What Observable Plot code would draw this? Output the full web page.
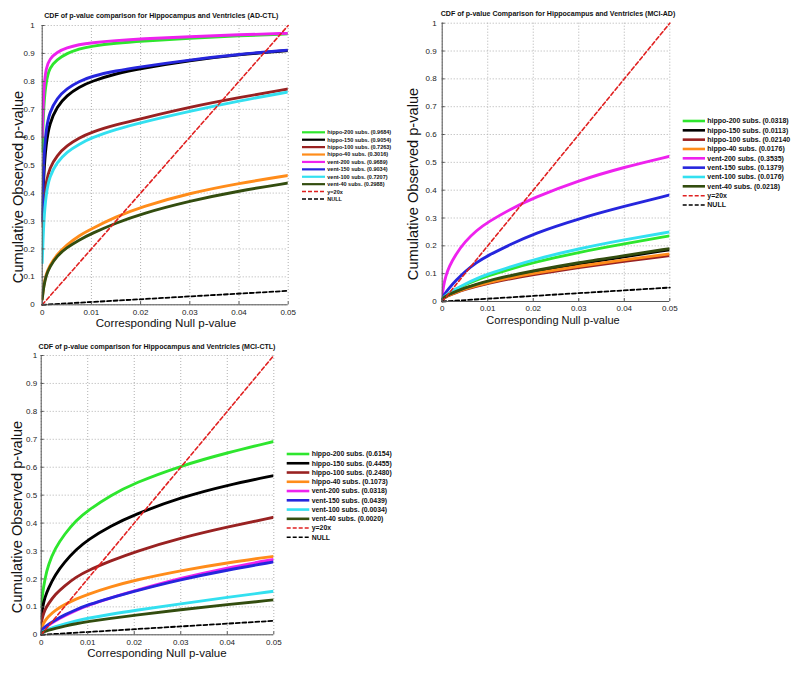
<!DOCTYPE html>
<html><head><meta charset="utf-8">
<script src="https://cdn.jsdelivr.net/npm/d3@7"></script>
<script src="https://cdn.jsdelivr.net/npm/@observablehq/plot@0.6"></script>
<style>
body{margin:0;background:#fff;font-family:"Liberation Sans",Arial,sans-serif;}
#root{position:relative;width:800px;height:674px;overflow:hidden;background:#fff}
#root > div, #root > svg{position:absolute}
</style></head>
<body><div id="root"></div>
<script>
// ---------- shared ----------
const seriesNames = ["hippo-200 subs.","hippo-150 subs.","hippo-100 subs.","hippo-40 subs.","vent-200 subs.","vent-150 subs.","vent-100 subs.","vent-40 subs."];
const seriesColors = ["#2ee62e","#000000","#992222","#ff8c1a","#ee22ee","#2626dd","#33e0f0","#334d0f"];
const refLabel = "y=20x", refColor = "#e02020";
const nullLabel = "NULL", nullColor = "#000000";
const refX = [0, 0.05], refY = [0, 1];
const nullX = [0, 0.05], nullY = [0, 0.05];
const xTicks = [0, 0.01, 0.02, 0.03, 0.04, 0.05];
const yTicks = [0, 0.1, 0.2, 0.3, 0.4, 0.5, 0.6, 0.7, 0.8, 0.9, 1];
// sampled null p-values (x) at which each curve was read
const pX = [0, 0.0003, 0.0008, 0.0015, 0.003, 0.005, 0.0075, 0.01, 0.015, 0.02, 0.03, 0.04, 0.05];

// ---------- AD-CTL ----------
const adCtlTitle = "CDF of p-value comparison for Hippocampus and Ventricles (AD-CTL)";
const adCtlLegendVals = ["(0.9684)","(0.9054)","(0.7263)","(0.3016)","(0.9689)","(0.9034)","(0.7207)","(0.2988)"];
const adCtlHippo200 = [0.55,0.72,0.80,0.85,0.878,0.90,0.917,0.926,0.937,0.944,0.955,0.963,0.970];
const adCtlHippo150 = [0.30,0.47,0.58,0.65,0.71,0.75,0.78,0.80,0.828,0.846,0.875,0.896,0.910];
const adCtlHippo100 = [0.28,0.37,0.44,0.49,0.535,0.57,0.597,0.618,0.645,0.666,0.708,0.742,0.773];
const adCtlHippo40  = [0.02,0.07,0.11,0.14,0.18,0.215,0.248,0.272,0.315,0.350,0.400,0.435,0.463];
const adCtlVent200  = [0.60,0.78,0.85,0.88,0.905,0.92,0.932,0.938,0.946,0.952,0.960,0.967,0.972];
const adCtlVent150  = [0.30,0.53,0.63,0.69,0.74,0.775,0.80,0.818,0.838,0.852,0.877,0.897,0.912];
const adCtlVent100  = [0.15,0.30,0.40,0.46,0.51,0.548,0.575,0.598,0.628,0.652,0.693,0.730,0.762];
const adCtlVent40   = [0.02,0.065,0.105,0.135,0.175,0.205,0.232,0.255,0.293,0.325,0.372,0.408,0.436];

// ---------- MCI-AD ----------
const mciAdTitle = "CDF of p-value Comparison for Hippocampus and Ventricles (MCI-AD)";
const mciAdLegendVals = ["(0.0318)","(0.0113)","(0.02140","(0.0176)","(0.3535)","(0.1379)","(0.0176)","(0.0218)"];
const mciAdHippo200 = [0.010,0.015,0.021,0.029,0.043,0.060,0.077,0.092,0.117,0.140,0.177,0.207,0.236];
const mciAdHippo150 = [0.008,0.012,0.018,0.024,0.034,0.047,0.060,0.071,0.090,0.107,0.136,0.161,0.186];
const mciAdHippo100 = [0.008,0.011,0.016,0.022,0.032,0.043,0.055,0.065,0.082,0.097,0.122,0.145,0.165];
const mciAdHippo40  = [0.008,0.012,0.017,0.023,0.033,0.045,0.057,0.068,0.086,0.101,0.127,0.150,0.171];
const mciAdVent200  = [0.020,0.058,0.092,0.125,0.170,0.215,0.255,0.285,0.332,0.372,0.435,0.483,0.522];
const mciAdVent150  = [0.010,0.020,0.033,0.048,0.075,0.108,0.140,0.165,0.205,0.243,0.298,0.342,0.383];
const mciAdVent100  = [0.010,0.015,0.022,0.030,0.045,0.063,0.082,0.098,0.125,0.150,0.190,0.222,0.250];
const mciAdVent40   = [0.008,0.013,0.019,0.025,0.036,0.049,0.062,0.074,0.093,0.110,0.140,0.165,0.190];

// ---------- MCI-CTL ----------
const mciCtlTitle = "CDF of p-value comparison for Hippocampus and Ventricles (MCI-CTL)";
const mciCtlLegendVals = ["(0.6154)","(0.4455)","(0.2480)","(0.1073)","(0.0318)","(0.0439)","(0.0034)","(0.0020)"];
const mciCtlHippo200 = [0.10,0.15,0.20,0.25,0.31,0.36,0.41,0.445,0.50,0.543,0.605,0.652,0.692];
const mciCtlHippo150 = [0.06,0.10,0.135,0.165,0.215,0.26,0.305,0.34,0.39,0.430,0.492,0.536,0.570];
const mciCtlHippo100 = [0.04,0.065,0.09,0.11,0.145,0.175,0.207,0.23,0.265,0.297,0.347,0.386,0.421];
const mciCtlHippo40  = [0.02,0.035,0.05,0.065,0.088,0.108,0.128,0.145,0.172,0.195,0.230,0.258,0.281];
const mciCtlVent200  = [0.010,0.017,0.025,0.034,0.050,0.068,0.088,0.106,0.133,0.157,0.203,0.240,0.270];
const mciCtlVent150  = [0.012,0.020,0.028,0.037,0.053,0.071,0.090,0.107,0.133,0.156,0.198,0.232,0.261];
const mciCtlVent100  = [0.006,0.010,0.015,0.020,0.029,0.039,0.050,0.059,0.074,0.087,0.111,0.134,0.156];
const mciCtlVent40   = [0.005,0.008,0.012,0.016,0.023,0.031,0.040,0.047,0.059,0.070,0.090,0.108,0.125];

const xLabel = "Corresponding Null p-value";
const yLabel = "Cumulative Observed p-value";

// ---------- build ----------
const root = document.getElementById("root");
const fmt = d => d === 0 ? "0" : String(+d.toFixed(2));

function makePlot(curves, cfg) {
  const rows = [];
  curves.forEach((ys, i) => ys.forEach((y, j) => rows.push({s: seriesNames[i], x: pX[j], y})));
  const refRows = refX.map((x, i) => ({x, y: refY[i]}));
  const nullRows = nullX.map((x, i) => ({x, y: nullY[i]}));
  const p = Plot.plot({
    width: cfg.w, height: cfg.h,
    marginLeft: cfg.ml, marginRight: cfg.mr, marginTop: cfg.mt, marginBottom: cfg.mb,
    style: {background: "transparent", fontFamily: "'Liberation Sans', Arial, sans-serif", overflow: "visible"},
    x: {domain: [0, 0.05]},
    y: {domain: [0, 1]},
    color: {domain: seriesNames, range: seriesColors},
    marks: [
      Plot.gridX(xTicks, {stroke: "#b0b0b0", strokeOpacity: 1, strokeDasharray: "1,2"}),
      Plot.gridY(yTicks, {stroke: "#b0b0b0", strokeOpacity: 1, strokeDasharray: "1,2"}),
      Plot.line(rows, {x: "x", y: "y", z: "s", stroke: "s", strokeWidth: 2.9, curve: "basis", clip: true}),
      Plot.line(refRows, {x: "x", y: "y", stroke: refColor, strokeWidth: 1.6, strokeDasharray: "4,2.5"}),
      Plot.line(nullRows, {x: "x", y: "y", stroke: nullColor, strokeWidth: 1.8, strokeDasharray: "4,2.5"}),
      Plot.ruleX([0], {stroke: "#555"}),
      Plot.ruleY([0], {stroke: "#555"}),
      Plot.axisX(xTicks, {tickSize: -3, tickPadding: cfg.xpad, tickFormat: fmt, fontSize: 8, stroke: "#555", fill: "#222", label: null}),
      Plot.axisY(yTicks, {tickSize: -3, tickPadding: cfg.ypad, tickFormat: fmt, fontSize: 8, stroke: "#555", fill: "#222", label: null})
    ]
  });
  const holder = document.createElement("div");
  holder.style.left = cfg.left + "px";
  holder.style.top = cfg.top + "px";
  holder.appendChild(p);
  root.appendChild(holder);
}

makePlot([adCtlHippo200, adCtlHippo150, adCtlHippo100, adCtlHippo40, adCtlVent200, adCtlVent150, adCtlVent100, adCtlVent40],
  {left: 0, top: 0, w: 300, h: 330, ml: 41.7, mr: 12.3, mt: 25, mb: 25.7, xpad: 8, ypad: 10.5});
makePlot([mciAdHippo200, mciAdHippo150, mciAdHippo100, mciAdHippo40, mciAdVent200, mciAdVent150, mciAdVent100, mciAdVent40],
  {left: 400, top: 0, w: 280, h: 330, ml: 41.7, mr: 10.7, mt: 22.7, mb: 29, xpad: 7, ypad: 8.5});
makePlot([mciCtlHippo200, mciCtlHippo150, mciCtlHippo100, mciCtlHippo40, mciCtlVent200, mciCtlVent150, mciCtlVent100, mciCtlVent40],
  {left: 0, top: 330, w: 290, h: 344, ml: 40.7, mr: 16.7, mt: 25, mb: 39.7, xpad: 7.5, ypad: 7});

// ---------- overlay texts and legends ----------
const ov = d3.select(root).append("svg")
  .attr("width", 800).attr("height", 674)
  .style("left", "0px").style("top", "0px").style("pointer-events", "none")
  .attr("font-family", "'Liberation Sans', Arial, sans-serif");

function titleText(t, x, y, fs) {
  ov.append("text").attr("x", x).attr("y", y).attr("dy", "0.35em").attr("text-anchor", "middle")
    .attr("font-weight", "bold").attr("font-size", fs).attr("fill", "#111").text(t);
}
function xLab(x, y, fs) {
  ov.append("text").attr("x", x).attr("y", y).attr("dy", "0.35em")
    .attr("text-anchor", "middle").attr("font-size", fs).attr("fill", "#111").text(xLabel);
}
function yLab(x, y, fs) {
  ov.append("text").attr("transform", `translate(${x},${y}) rotate(-90)`).attr("dy", "0.35em")
    .attr("text-anchor", "middle").attr("font-size", fs).attr("fill", "#111").text(yLabel);
}
function legend(vals, x0, x1, tx, top, step, fs, lw) {
  const items = seriesNames.map((n, i) => ({t: n + " " + vals[i], c: seriesColors[i], d: null, w: lw}))
    .concat([{t: refLabel, c: refColor, d: "4,2", w: 1.5}, {t: nullLabel, c: nullColor, d: "4,2", w: 1.5}]);
  items.forEach((it, i) => {
    const y = top + i * step;
    ov.append("line").attr("x1", x0).attr("x2", x1).attr("y1", y).attr("y2", y)
      .attr("stroke", it.c).attr("stroke-width", it.w).attr("stroke-dasharray", it.d);
    ov.append("text").attr("x", tx).attr("y", y).attr("dy", "0.35em").attr("font-size", fs)
      .attr("font-weight", "bold").attr("fill", "#111").text(it.t);
  });
}

titleText(adCtlTitle, 161.3, 15.7, 7.05);
titleText(mciAdTitle, 558, 14, 7.05);
titleText(mciCtlTitle, 157, 346.7, 7.05);
xLab(166, 323, 11.6); xLab(553, 320, 11); xLab(157, 653, 11.5);
yLab(18.3, 187, 14.6); yLab(413, 184, 14.6); yLab(16.7, 517, 14.6);
legend(adCtlLegendVals, 302, 325, 327.3, 132.3, 7.41, 5.5, 2.2);
legend(mciAdLegendVals, 682.7, 705, 707.3, 121, 9.33, 7.0, 2.6);
legend(mciCtlLegendVals, 286.7, 309.3, 311.7, 454, 9.26, 6.9, 2.6);
</script></body></html>
